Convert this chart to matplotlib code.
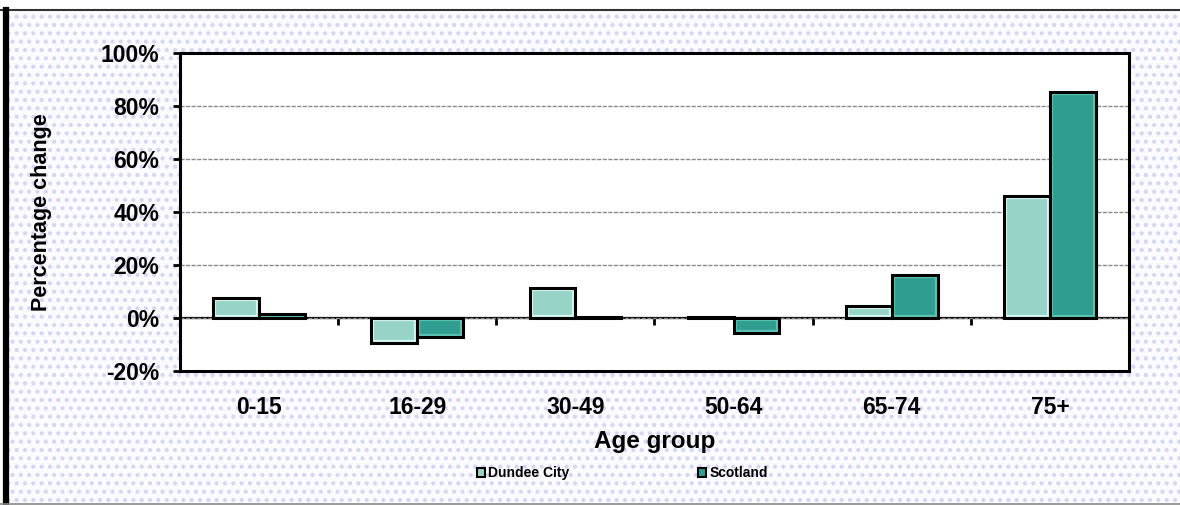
import matplotlib
matplotlib.use("Agg")
import matplotlib.pyplot as plt
import numpy as np
from matplotlib.patches import Rectangle
from matplotlib.lines import Line2D
from matplotlib.ticker import PercentFormatter, FixedLocator

# Percentage change in population by age group
age_groups = ["0-15", "16-29", "30-49", "50-64", "65-74", "75+"]
dundee_city = [7.5, -9.4, 11.3, 0.3, 4.5, 46.0]
scotland = [1.5, -7.0, 0.3, -5.5, 16.2, 85.3]
series_names = ["Dundee City", "Scotland"]
y_ticks = [-20, 0, 20, 40, 60, 80, 100]

dundee_fill, dundee_inner = "#98d3c8", "#d2f7f1"
scot_fill, scot_inner = "#2f9d8f", "#5cc3b4"

plt.rcParams["font.family"] = ["Liberation Sans", "DejaVu Sans"]
plt.rcParams["font.weight"] = "bold"
plt.rcParams["axes.unicode_minus"] = False
plt.rcParams["hatch.linewidth"] = 1.8
plt.rcParams["hatch.color"] = "#d6d6f3"

W, H = 1180, 505
fig = plt.figure(figsize=(W / 100, H / 100), dpi=100)
fig.patch.set_facecolor("white")

# dotted backdrop and outer frame
bg = Rectangle((9 / W, 2 / H), 1 - 9 / W, 1 - 12 / H, transform=fig.transFigure,
               facecolor="#fbfbff", edgecolor="#d6d6f3", hatch="..", linewidth=0, zorder=-10)
fig.patches.append(bg)
fig.add_artist(Line2D([0, 1], [1 - 10 / H, 1 - 10 / H], transform=fig.transFigure,
                      color="#333333", lw=1.5, zorder=-5))
fig.add_artist(Line2D([6 / W, 6 / W], [0, 1 - 10 / H], transform=fig.transFigure,
                      color="black", lw=4.5, zorder=-5))
fig.add_artist(Line2D([0, 1], [1.5 / H, 1.5 / H], transform=fig.transFigure,
                      color="#888888", lw=1.2, zorder=-5))

left, right = 180 / W, 1129 / W
top, bottom = 1 - 53 / H, 1 - 371 / H
ax = fig.add_axes([left, bottom, right - left, top - bottom])
ax.set_facecolor("white")

x = np.arange(len(age_groups))
w = 0.29
ymin, ymax = -20, 100
ax.set_xlim(-0.5, len(age_groups) - 0.5)
ax.set_ylim(ymin, ymax)

for vals, off, fill, inner in [(dundee_city, -w / 2, dundee_fill, dundee_inner),
                               (scotland, w / 2, scot_fill, scot_inner)]:
    bars = ax.bar(x + off, vals, w, color=fill, edgecolor=inner, linewidth=4.5, zorder=3)
    for b in bars:
        b.set_clip_path(b)
    ax.bar(x + off, vals, w, fill=False, edgecolor="black", linewidth=2.2, zorder=4)

# gridlines
ax.yaxis.set_major_locator(FixedLocator(y_ticks))
ax.yaxis.set_major_formatter(PercentFormatter(decimals=0))
ax.grid(axis="y", color="#8a8a8a", linestyle=(0, (3, 1)), linewidth=1.0, zorder=0)
ax.set_axisbelow(True)

for s in ax.spines.values():
    s.set_linewidth(2.2)
    s.set_color("black")

ax.set_xticks(x)
ax.set_xticklabels(age_groups)
ax.tick_params(axis="x", length=0, pad=18, labelsize=16.5)
ax.tick_params(axis="y", length=5, width=2, direction="out", pad=10, labelsize=16.5)

# zero line with category-boundary ticks
zero_loc = (0 - ymin) / (ymax - ymin)
sec = ax.secondary_xaxis(zero_loc)
sec.set_xticks(np.arange(len(age_groups) + 1) - 0.5)
sec.xaxis.set_ticks_position("bottom")
sec.tick_params(axis="x", direction="out", length=5, width=2, labelbottom=False, labeltop=False)
sec.spines["bottom"].set_linewidth(1.6)
sec.spines["top"].set_visible(False)

ax.set_xlabel("Age group", fontsize=17.5, fontweight="bold", labelpad=8)
ax.set_ylabel("Percentage change", fontsize=15.5, fontweight="bold")
ax.yaxis.set_label_coords(-0.135, 0.5)

handles = [Rectangle((0, 0), 1, 1, facecolor=dundee_fill, edgecolor="black", linewidth=1.5),
           Rectangle((0, 0), 1, 1, facecolor=scot_fill, edgecolor="black", linewidth=1.5)]
fig.legend(handles, series_names, loc="center left", bbox_to_anchor=(464 / W, 1 - 473 / H),
           ncol=2, frameon=False, prop={"size": 10, "weight": "bold"},
           handlelength=0.6, handleheight=0.6, handletextpad=0.2, columnspacing=9.3)

fig.savefig("out.png", dpi=100, facecolor=fig.get_facecolor())
